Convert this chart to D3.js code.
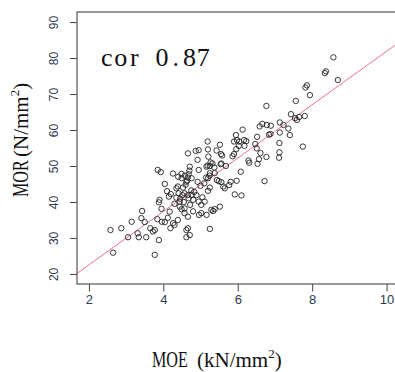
<!DOCTYPE html>
<html>
<head>
<meta charset="utf-8">
<script src="https://cdn.jsdelivr.net/npm/d3@7"></script>
<style>
  body { margin: 0; background: white; }
</style>
</head>
<body>
<div id="chart"></div>
<script>
// MOE (kN/mm2) and MOR (N/mm2)
const moe = [
  8.57, 8.34, 8.37, 8.69, 7.82, 7.86, 7.94, 7.56, 6.77, 7.43,
  7.59, 7.65, 7.80, 7.54, 7.13, 7.23, 7.36, 7.13, 7.40, 7.75,
  7.12, 7.12, 7.11, 6.84, 6.88, 6.59, 6.66, 6.78, 6.89, 6.52,
  6.47, 6.51, 6.61, 6.77, 6.57, 6.53, 6.72, 6.29, 6.13, 5.95,
  5.98, 5.90, 6.04, 6.17, 6.23, 6.18, 6.03, 5.96, 5.90, 5.86,
  5.19, 5.52, 5.43, 4.95, 5.20, 5.21, 5.55, 5.58, 5.27, 5.54,
  4.92, 5.19, 5.25, 5.68, 6.08, 5.97, 5.81, 5.44, 5.49, 5.56,
  5.15, 5.24, 4.92, 5.61, 5.77, 5.25, 5.16, 5.32, 5.37, 5.56,
  5.25, 5.38, 5.20, 5.65, 5.92, 6.10, 6.31, 5.20, 5.05, 5.11,
  5.02, 5.29, 5.38, 5.34, 5.52, 5.02, 5.16, 5.00, 4.89, 5.25,
  2.58, 2.65, 2.87, 3.05, 3.15, 3.31, 3.34, 3.43, 3.41, 3.50,
  3.54, 3.65, 3.72, 3.77, 3.77, 3.88, 3.84, 3.88, 3.90, 3.95,
  3.96, 4.04, 4.04, 4.15, 4.17, 4.12, 4.19, 4.26, 4.39, 4.30,
  4.35, 4.41, 4.44, 4.44, 4.49, 4.57, 4.57, 4.66, 4.62, 4.66,
  4.62, 4.71, 4.51, 4.57, 4.66, 4.62, 4.80, 4.95, 4.96, 3.85,
  3.93, 4.26, 4.66, 4.87, 4.49, 4.71, 4.70, 4.68, 4.66, 4.64,
  4.60, 4.49, 4.39, 4.95, 4.58, 4.53, 4.75, 4.83, 4.45, 4.72,
  4.30, 4.55, 4.80, 4.10, 4.76, 4.40, 5.10, 4.20, 4.35, 4.68,
  4.76
];
const mor = [
  80.2, 75.8, 76.3, 73.9, 71.8, 72.4, 69.7, 68.1, 66.7, 64.4,
  62.8, 63.6, 63.9, 63.3, 62.1, 61.4, 60.4, 59.3, 58.6, 55.4,
  56.4, 53.8, 52.3, 58.7, 58.9, 61.0, 61.7, 61.4, 61.2, 58.1,
  56.1, 54.9, 53.6, 52.5, 51.9, 50.6, 45.8, 51.5, 60.1, 58.6,
  57.2, 56.8, 56.8, 57.2, 56.9, 55.6, 55.6, 54.7, 53.3, 52.7,
  56.8, 55.9, 54.3, 54.4, 54.6, 52.6, 53.3, 52.9, 51.0, 50.5,
  51.7, 50.1, 50.0, 50.0, 48.4, 45.9, 45.6, 46.1, 45.8, 45.5,
  46.8, 47.3, 45.6, 44.3, 44.7, 44.0, 49.8, 50.7, 49.6, 50.7,
  48.0, 48.0, 46.6, 43.8, 42.1, 41.8, 50.9, 43.1, 41.3, 40.1,
  39.2, 37.8, 38.0, 37.5, 38.7, 36.9, 36.4, 44.5, 41.9, 32.5,
  32.2, 25.9, 32.7, 30.2, 34.5, 31.3, 30.2, 37.5, 35.5, 34.4,
  30.2, 32.7, 31.8, 25.3, 32.2, 29.4, 35.2, 39.9, 40.6, 38.1,
  34.5, 45.0, 34.4, 41.5, 37.3, 35.6, 32.7, 34.1, 35.0, 33.6,
  43.8, 42.4, 40.1, 38.7, 38.0, 38.2, 36.9, 35.9, 32.2, 32.7,
  30.2, 30.8, 41.9, 42.4, 41.9, 45.6, 40.6, 40.1, 36.4, 48.9,
  48.3, 47.9, 53.5, 54.2, 47.8, 49.8, 48.7, 47.7, 46.8, 45.9,
  44.8, 46.6, 44.3, 48.9, 47.3, 44.0, 43.2, 42.8, 40.9, 39.2,
  39.5, 40.0, 37.4, 43.0, 46.6, 47.0, 45.2, 42.2, 41.2, 41.0,
  42.0
];

const xTicks = [2, 4, 6, 8, 10];
const yTicks = [20, 30, 40, 50, 60, 70, 80, 90];
const corText = "cor 0.87";

// fitted line MOR = a + b * MOE
const fitIntercept = 7.68;
const fitSlope = 7.42;

const width = 395, height = 372;
const plotLeft = 77, plotTop = 12, plotRight = 398.5, plotBottom = 284;

const svg = d3.select("#chart")
  .append("svg")
  .attr("width", width)
  .attr("height", height)
  .style("display", "block");

// R style 4% padding around xlim = c(2,10), ylim = c(20,90)
const x = d3.scaleLinear().domain([1.68, 10.32]).range([plotLeft, plotRight]);
const y = d3.scaleLinear().domain([17.2, 92.8]).range([plotBottom, plotTop]);

svg.append("defs").append("clipPath")
  .attr("id", "plotclip")
  .append("rect")
  .attr("x", plotLeft).attr("y", plotTop)
  .attr("width", plotRight - plotLeft).attr("height", plotBottom - plotTop);

// x axis
const xAxis = svg.append("g")
  .attr("transform", `translate(0,${plotBottom})`)
  .call(d3.axisBottom(x).tickValues(xTicks).tickSize(7.5).tickPadding(3));
xAxis.select(".domain").remove();
xAxis.selectAll("line").attr("stroke", "#444");
xAxis.selectAll("text")
  .attr("font-family", "Liberation Sans, Arial, sans-serif")
  .attr("font-size", 13)
  .attr("fill", "#2e3a52");

// y axis, labels turned like R's default las = 0
const yAxis = svg.append("g")
  .attr("transform", `translate(${plotLeft},0)`)
  .call(d3.axisLeft(y).tickValues(yTicks).tickSize(7));
yAxis.select(".domain").remove();
yAxis.selectAll("line").attr("stroke", "#444");
yAxis.selectAll("text")
  .attr("x", null).attr("dy", null)
  .attr("transform", "translate(-19,0) rotate(-90)")
  .attr("text-anchor", "middle")
  .attr("font-family", "Liberation Sans, Arial, sans-serif")
  .attr("font-size", 12)
  .attr("fill", "#2e3a52");

// regression line
svg.append("line")
  .attr("clip-path", "url(#plotclip)")
  .attr("x1", x(1.68)).attr("y1", y(fitIntercept + fitSlope * 1.68))
  .attr("x2", x(10.32)).attr("y2", y(fitIntercept + fitSlope * 10.32))
  .attr("stroke", "#e8607c")
  .attr("stroke-width", 0.9);

// points
svg.append("g")
  .selectAll("circle")
  .data(moe.map((d, i) => [d, mor[i]]))
  .enter()
  .append("circle")
  .attr("cx", d => x(d[0]))
  .attr("cy", d => y(d[1]))
  .attr("r", 2.7)
  .attr("fill", "none")
  .attr("stroke", "#222")
  .attr("stroke-width", 0.9);

// plot box
svg.append("rect")
  .attr("x", plotLeft).attr("y", plotTop)
  .attr("width", plotRight - plotLeft).attr("height", plotBottom - plotTop)
  .attr("fill", "none")
  .attr("stroke", "#555")
  .attr("stroke-width", 1.2);

// correlation label, one fixed cell per character like a mincho font
const serif = "Liberation Serif, Times New Roman, serif";
const cell = 13.75;
svg.append("text")
  .attr("y", 66)
  .attr("font-family", serif)
  .attr("font-size", 26)
  .attr("fill", "#111")
  .attr("text-anchor", "middle")
  .selectAll("tspan")
  .data(corText.split(""))
  .enter()
  .append("tspan")
  .attr("x", (d, i) => 100 + cell * (i + 0.5))
  .text(d => d);

// axis titles; "MOE"/"MOR" are narrow, so squeeze them sideways
svg.append("text")
  .attr("transform", "translate(152,367) scale(0.7,1)")
  .attr("font-family", serif).attr("font-size", 23)
  .attr("fill", "#111")
  .text("MOE");

const xUnit = svg.append("text")
  .attr("x", 197).attr("y", 367)
  .attr("font-family", serif).attr("font-size", 21)
  .attr("fill", "#111");
xUnit.append("tspan").text("(kN/mm");
xUnit.append("tspan").attr("dy", -9).attr("font-size", 13).text("2");
xUnit.append("tspan").attr("dy", 9).text(")");

const yTitle = svg.append("g").attr("transform", "translate(28,0) rotate(-90)");
yTitle.append("text")
  .attr("transform", "translate(-197,0) scale(0.7,1)")
  .attr("font-family", serif).attr("font-size", 23)
  .attr("fill", "#111")
  .text("MOR");
const yUnit = yTitle.append("text")
  .attr("x", -157).attr("y", 0)
  .attr("font-family", serif).attr("font-size", 21)
  .attr("fill", "#111");
yUnit.append("tspan").text("(N/mm");
yUnit.append("tspan").attr("dy", -9).attr("font-size", 13).text("2");
yUnit.append("tspan").attr("dy", 9).text(")");
</script>
</body>
</html>
